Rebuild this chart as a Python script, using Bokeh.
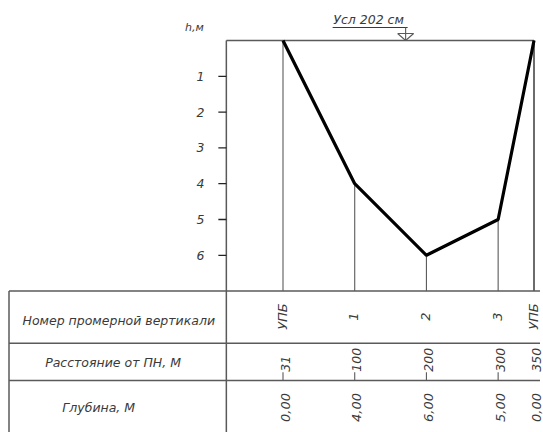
import math
from bokeh.plotting import figure
from bokeh.models import Range1d
from bokeh.core.properties import value
from bokeh.embed import file_html
from bokeh.resources import INLINE

# ---- data ----
vertical_names = ["УПБ", "1", "2", "3", "УПБ"]
distance_labels = ["31", "100", "200", "300", "350"]
station_pos = [0, 100, 200, 300, 350]          # position of each vertical on the drawing scale, m
depths = [0.0, 4.0, 6.0, 5.0, 0.0]             # depth, m
depth_ticks = [1, 2, 3, 4, 5, 6]
row_titles = ["Номер промерной вертикали", "Расстояние от ПН, М", "Глубина, М"]
water_label = "Усл 202 см"
axis_label = "h,м"

depth_labels = [f"{d:.2f}".replace(".", ",") for d in depths]

# ---- layout ----
XPX = 251 / 350.0     # px per metre horizontally
YPX = 35.8            # px per metre of depth
W, H = 543, 432
x0 = -282.5 / XPX
x1 = x0 + W / XPX
ytop = -40 / YPX
ybot = ytop + H / YPX

def dx(px):
    return px / XPX

def dy(px):
    return px / YPX

frame_left = -79.0
table_top = 7.0
row_lines = [8.46, 9.5]
table_left = x0 + dx(8.5)
table_right = station_pos[-1] + dx(6)

GRAY = "#5a5a5a"
TXT = "#3a3a3a"
FONT = value("DejaVu Sans")

p = figure(width=W, height=H, x_range=Range1d(x0, x1), y_range=Range1d(ybot, ytop),
           output_backend="svg", toolbar_location=None, min_border=0)
p.axis.visible = False
p.grid.visible = False
p.outline_line_color = None
p.background_fill_color = "white"
p.border_fill_color = "white"

# plot frame: left (continues as table divider) and top
p.line([frame_left, frame_left], [0, ybot + 1], line_color=GRAY, line_width=1.5)
p.line([frame_left, station_pos[-1]], [0, 0], line_color=GRAY, line_width=1.5)

# verticals from the bed down to the table
p.segment(x0=station_pos, y0=depths, x1=station_pos, y1=[table_top] * len(station_pos),
          line_color=GRAY, line_width=1.1)
# right frame edge
p.line([station_pos[-1], station_pos[-1]], [0, table_top], line_color=GRAY, line_width=1.5)

# bed profile
p.line(station_pos, depths, line_color="black", line_width=3.2)

# depth axis ticks and labels
p.segment(x0=[frame_left - dx(8)] * len(depth_ticks), y0=depth_ticks,
          x1=[frame_left] * len(depth_ticks), y1=depth_ticks, line_color="#222222", line_width=1.3)
p.text(x=[frame_left - dx(22)] * len(depth_ticks), y=depth_ticks, text=[str(t) for t in depth_ticks],
       text_align="right", text_baseline="middle", text_font=FONT, text_font_style="italic",
       text_font_size="12.5px", text_color=TXT)
p.text(x=[frame_left - dx(32)], y=[-dy(13)], text=[axis_label], text_align="center",
       text_baseline="middle", text_font=FONT, text_font_style="italic",
       text_font_size="11px", text_color=TXT)

# water level annotation
wl_x = 171.0
p.text(x=[wl_x - dx(37)], y=[-dy(21)], text=[water_label], text_align="center",
       text_baseline="middle", text_font=FONT, text_font_style="italic",
       text_font_size="12.5px", text_color=TXT)
p.line([wl_x - dx(73), wl_x + dx(2)], [-dy(13), -dy(13)], line_color=TXT, line_width=1.2)
p.line([wl_x, wl_x], [-dy(13), 0], line_color=GRAY, line_width=1.1)
p.line([wl_x - dx(8), wl_x + dx(8), wl_x, wl_x - dx(8)], [-dy(7), -dy(7), 0, -dy(7)],
       line_color=GRAY, line_width=1.1)

# table grid
for yl in [table_top] + row_lines:
    p.line([table_left, table_right], [yl, yl], line_color=GRAY, line_width=1.5)
p.line([table_left, table_left], [table_top, ybot + 1], line_color=GRAY, line_width=1.5)

# row titles
title_x = [-229.0, -237.0, -257.0]
title_y = [7.82, 9.0, 10.25]
p.text(x=title_x, y=title_y, text=row_titles, text_align="center", text_baseline="middle",
       text_font=FONT, text_font_style="italic", text_font_size="12.5px", text_color=TXT)

# row 1: vertical numbers
p.text(x=station_pos, y=[7.71] * 5, text=vertical_names, angle=math.pi / 2,
       text_align="center", text_baseline="middle", x_offset=-1,
       text_font=FONT, text_font_style="italic", text_font_size="13px", text_color=TXT)

# row 2: distances with small ticks
p.text(x=station_pos, y=[9.25] * 5, text=distance_labels, angle=math.pi / 2,
       text_align="left", text_baseline="middle", x_offset=2,
       text_font=FONT, text_font_style="italic", text_font_size="12.5px", text_color=TXT)
p.segment(x0=station_pos[:4], y0=[9.27] * 4, x1=station_pos[:4], y1=[row_lines[1]] * 4,
          line_color=GRAY, line_width=1.1)

# row 3: depths
p.text(x=station_pos, y=[10.25] * 5, text=depth_labels, angle=math.pi / 2,
       text_align="center", text_baseline="middle", x_offset=2,
       text_font=FONT, text_font_style="italic", text_font_size="13px", text_color=TXT)

open("out.html", "w").write(file_html(p, INLINE))
